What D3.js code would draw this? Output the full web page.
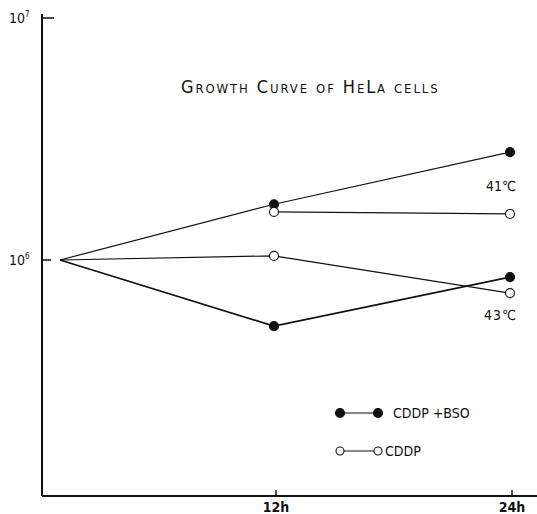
<!DOCTYPE html>
<html>
<head>
<meta charset="utf-8">
<script src="https://cdn.jsdelivr.net/npm/d3@7"></script>
<style>
  body { margin: 0; background: #fff; }
  text { font-family: "DejaVu Sans Condensed", "DejaVu Sans", sans-serif; fill: #111; }
</style>
</head>
<body>
<svg id="chart" width="537" height="514"></svg>
<script>
// time points (h)
const hours = [0, 12, 24];
// cell counts
const bso41 = [1.0e6, 1.70e6, 2.79e6];
const cddp41 = [1.0e6, 1.58e6, 1.55e6];
const bso43 = [1.0e6, 0.533e6, 0.85e6];
const cddp43 = [1.0e6, 1.04e6, 0.73e6];
const xTicks = [12, 24];
const xTickLabels = ["12h", "24h"];
const yTicks = [1e6, 1e7];
const yTickExp = ["6", "7"];

const series = [
    {values: bso41, filled: true, from: 0},
    {values: cddp41, filled: false, from: 1},   // 0h-12h segment shares the rising line
    {values: bso43, filled: true, from: 0},
    {values: cddp43, filled: false, from: 0}
];

const svg = d3.select("#chart");
const axisX = 42, axisY = 496;

const x = d3.scaleLinear().domain([0, 12, 24]).range([60, 274, 510]);
const y = d3.scaleLog().domain([1e5, 1e7]).range([502, 18]);

// axes
svg.append("line").attr("x1", axisX).attr("x2", axisX).attr("y1", 14).attr("y2", axisY)
    .style("stroke", "#111").style("stroke-width", 2);
svg.append("line").attr("x1", axisX).attr("x2", 537).attr("y1", axisY).attr("y2", axisY)
    .style("stroke", "#111").style("stroke-width", 2);

svg.selectAll("line.ytick")
    .data(yTicks)
    .join("line")
    .attr("class", "ytick")
    .attr("x1", axisX).attr("x2", (d, i) => i === 1 ? axisX + 12 : axisX + 9)
    .attr("y1", d => y(d)).attr("y2", d => y(d))
    .style("stroke", "#111").style("stroke-width", 1.5);

const yl = svg.selectAll("text.ylab")
    .data(yTicks)
    .join("text")
    .attr("class", "ylab")
    .attr("x", 9)
    .attr("y", d => y(d) + 5)
    .style("font-size", "14px");
yl.append("tspan").text("10");
yl.append("tspan").attr("dy", -6).style("font-size", "8px").text((d, i) => yTickExp[i]);

svg.selectAll("line.xtick")
    .data(xTicks)
    .join("line")
    .attr("class", "xtick")
    .attr("x1", d => x(d) + 2).attr("x2", d => x(d) + 2)
    .attr("y1", axisY).attr("y2", axisY - 6)
    .style("stroke", "#111").style("stroke-width", 1.5);

svg.selectAll("text.xlab")
    .data(xTicks)
    .join("text")
    .attr("class", "xlab")
    .attr("x", d => x(d) + 2)
    .attr("y", 512)
    .attr("text-anchor", "middle")
    .style("font-size", "14px")
    .style("font-weight", "bold")
    .text((d, i) => xTickLabels[i]);

// lines
const line = d3.line()
    .defined(d => d.show)
    .x(d => x(d.h))
    .y(d => y(d.v));

series.forEach((s, k) => {
    const pts = hours.map((h, i) => ({h: h, v: s.values[i], show: i >= s.from}));
    svg.append("path")
        .datum(pts)
        .attr("d", line)
        .style("fill", "none")
        .style("stroke", "#111")
        .style("stroke-width", k === 2 ? 1.6 : 1.2);
});

series.forEach(s => {
    const pts = hours.slice(1).map((h, i) => ({h: h, v: s.values[i + 1]}));
    svg.selectAll(null)
        .data(pts)
        .join("circle")
        .attr("cx", d => x(d.h))
        .attr("cy", d => y(d.v))
        .attr("r", 4.5)
        .style("fill", s.filled ? "#111" : "#fff")
        .style("stroke", "#111")
        .style("stroke-width", 1.1);
});

// title (small caps)
svg.append("text")
    .attr("x", 181).attr("y", 93)
    .style("font-size", "18px")
    .style("font-variant", "small-caps")
    .style("letter-spacing", "1.9px")
    .style("font-weight", "300")
    .text("Growth Curve of HeLa cells");

// temperature labels
svg.append("text").attr("x", 486).attr("y", 191).style("font-size", "14px").text("41℃");
svg.append("text").attr("x", 484).attr("y", 320).style("font-size", "14px").style("letter-spacing", "1px").text("43℃");

// legend
const legend = [
    {label: "CDDP +BSO", filled: true, y: 413, tx: 393},
    {label: "CDDP", filled: false, y: 451, tx: 385}
];
legend.forEach(l => {
    svg.append("line").attr("x1", 340).attr("x2", 378).attr("y1", l.y).attr("y2", l.y)
        .style("stroke", "#111").style("stroke-width", 1.2);
    [340, 378].forEach(cx => {
        svg.append("circle").attr("cx", cx).attr("cy", l.y).attr("r", l.filled ? 4.5 : 4)
            .style("fill", l.filled ? "#111" : "#fff")
            .style("stroke", "#111").style("stroke-width", 1.1);
    });
    svg.append("text").attr("x", l.tx).attr("y", l.y + 5).style("font-size", "14px").text(l.label);
});
</script>
</body>
</html>
